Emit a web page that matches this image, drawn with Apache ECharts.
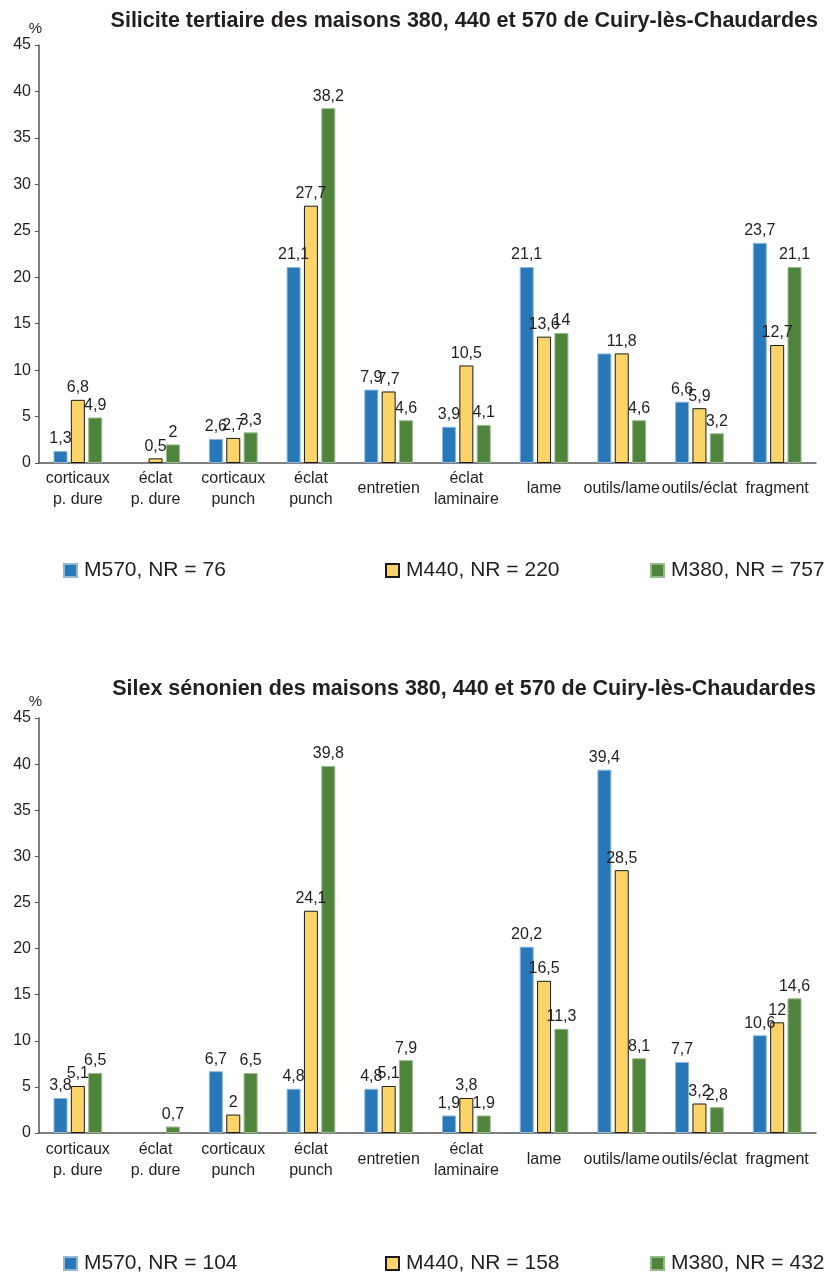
<!DOCTYPE html>
<html><head><meta charset="utf-8">
<script src="https://cdn.jsdelivr.net/npm/echarts@6/dist/echarts.min.js"></script>
<style>html,body{margin:0;padding:0;background:#fff}#c{width:827px;height:1273px}</style>
</head><body><div id="c"></div>
<script>
const categories = ['corticaux\np. dure','éclat\np. dure','corticaux\npunch','éclat\npunch','entretien','éclat\nlaminaire','lame','outils/lame','outils/éclat','fragment'];
const yTicks = [0,5,10,15,20,25,30,35,40,45];

const title1 = 'Silicite tertiaire des maisons 380, 440 et 570 de Cuiry-lès-Chaudardes';
const legend1 = ['M570, NR = 76','M440, NR = 220','M380, NR = 757'];
const m570_1 = [1.3, null, 2.6, 21.1, 7.9, 3.9, 21.1, 11.8, 6.6, 23.7];
const m440_1 = [6.8, 0.5, 2.7, 27.7, 7.7, 10.5, 13.6, 11.8, 5.9, 12.7];
const m380_1 = [4.9, 2, 3.3, 38.2, 4.6, 4.1, 14, 4.6, 3.2, 21.1];
const hiddenLabels1 = {m570: [7]};

const title2 = 'Silex sénonien des maisons 380, 440 et 570 de Cuiry-lès-Chaudardes';
const legend2 = ['M570, NR = 104','M440, NR = 158','M380, NR = 432'];
const m570_2 = [3.8, null, 6.7, 4.8, 4.8, 1.9, 20.2, 39.4, 7.7, 10.6];
const m440_2 = [5.1, null, 2, 24.1, 5.1, 3.8, 16.5, 28.5, 3.2, 12];
const m380_2 = [6.5, 0.7, 6.5, 39.8, 7.9, 1.9, 11.3, 8.1, 2.8, 14.6];

const COLORS = ['#2878b8', '#fad468', '#4e843c'];
const BORDERS = ['#8fb8dc', '#1a1a1a', '#97b98a'];
const FONT = '"Liberation Sans", Arial, sans-serif';
const TXT = '#231f20';

const fmt = v => String(v).replace('.', ',');

function mkData(arr, hidden) {
  return arr.map((v, i) => {
    if (v === null) return '-';
    if (hidden && hidden.indexOf(i) >= 0) return {value: v, label: {show: false}};
    return v;
  });
}

const grids = [
  {left: 39, right: 11, top: 45, height: 418},
  {left: 39, right: 11, top: 718, height: 415}
];

function xAx(gi, margin) {
  return {
    type: 'category', gridIndex: gi, data: categories,
    axisLine: {lineStyle: {color: '#555', width: 1.5}},
    axisTick: {show: false},
    axisLabel: {color: TXT, fontFamily: FONT, fontSize: 16, interval: 0, margin: margin, verticalAlign: 'middle', lineHeight: 21}
  };
}
function yAx(gi) {
  return {
    type: 'value', gridIndex: gi, min: 0, max: 45, interval: 5,
    name: '%', nameLocation: 'end', nameGap: 9,
    nameTextStyle: {color: TXT, fontFamily: FONT, fontSize: 15, align: 'right', padding: [0, -3, 0, 0]},
    axisLine: {show: true, lineStyle: {color: '#555', width: 1.5}},
    axisTick: {show: true, length: 4, inside: false, lineStyle: {color: '#555'}},
    splitLine: {show: false},
    axisLabel: {color: TXT, fontFamily: FONT, fontSize: 16, margin: 8, formatter: v => yTicks.indexOf(v) >= 0 ? String(v) : ''}
  };
}

function bar(name, data, idx, gi, hidden) {
  return {
    type: 'bar', name: name, xAxisIndex: gi, yAxisIndex: gi,
    data: mkData(data, hidden),
    barWidth: 14, barGap: '24%',
    itemStyle: {color: COLORS[idx], borderColor: BORDERS[idx], borderWidth: 1},
    label: {show: true, position: 'top', distance: 4, color: TXT, fontFamily: FONT, fontSize: 16, formatter: p => fmt(p.value)}
  };
}

const legendPos = [[{left: 58, top: 555}, {left: 380, top: 555}, {left: 645, top: 555}],
                   [{left: 58, top: 1248}, {left: 380, top: 1248}, {left: 645, top: 1248}]];
const legends = [];
[legend1, legend2].forEach((lg, gi) => {
  lg.forEach((n, i) => {
    legends.push(Object.assign({
      data: [n], orient: 'horizontal', icon: 'rect', itemWidth: 13, itemHeight: 13, itemGap: 10,
      selectedMode: false,
      textStyle: {color: TXT, fontFamily: FONT, fontSize: 21, padding: [0, 0, 0, 2]}
    }, legendPos[gi][i]));
  });
});

const option = {
  animation: false,
  backgroundColor: '#fff',
  title: [
    {text: title1, right: 4, top: 5, textStyle: {color: TXT, fontFamily: FONT, fontSize: 21.5, fontWeight: 'bold'}},
    {text: title2, right: 6, top: 673, textStyle: {color: TXT, fontFamily: FONT, fontSize: 21.5, fontWeight: 'bold'}}
  ],
  legend: legends,
  grid: grids,
  xAxis: [xAx(0, 26), xAx(1, 27)],
  yAxis: [yAx(0), yAx(1)],
  series: [
    bar(legend1[0], m570_1, 0, 0, hiddenLabels1.m570),
    bar(legend1[1], m440_1, 1, 0),
    bar(legend1[2], m380_1, 2, 0),
    bar(legend2[0], m570_2, 0, 1),
    bar(legend2[1], m440_2, 1, 1),
    bar(legend2[2], m380_2, 2, 1)
  ]
};
echarts.init(document.getElementById('c')).setOption(option);
</script></body></html>
